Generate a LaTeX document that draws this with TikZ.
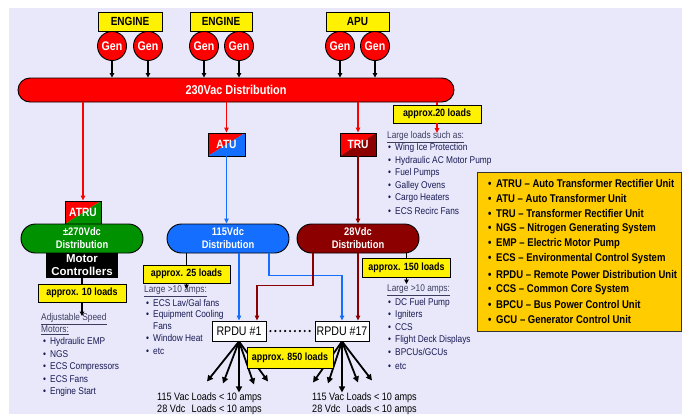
\documentclass[tikz,border=0pt]{standalone}
\usepackage{fontspec}
\setmainfont{Liberation Sans}[FakeStretch=0.85]
\newfontfamily\widefont{Liberation Sans}
\usetikzlibrary{arrows.meta}
\definecolor{bgc}{RGB}{232,232,250}
\definecolor{pblue}{RGB}{20,110,255}
\definecolor{dred}{RGB}{140,0,0}
\definecolor{pgreen}{RGB}{0,145,0}
\definecolor{gold}{RGB}{255,204,0}
\definecolor{navy}{RGB}{25,25,85}
\definecolor{hgrey}{RGB}{60,60,95}
\newcommand\bul{\makebox[7pt][l]{\textbullet}}
\newcommand\lbul{\makebox[8pt][l]{\textbullet}}
\begin{document}
\begin{tikzpicture}[x=1pt,y=-1pt,
  ybox/.style={draw=black, fill=yellow, line width=0.9pt, inner sep=0pt, text=black, font=\bfseries\fontsize{10.5}{12}\selectfont},
  gen/.style={circle, draw=black, fill=red, line width=0.9pt, minimum size=29pt, inner sep=0pt, text=white, font=\bfseries\fontsize{12.5}{13}\selectfont},
  pill/.style={draw=black, line width=0.9pt, rounded corners=14.5pt, minimum width=122pt, minimum height=29pt, inner sep=0pt, align=center, text=white, font=\bfseries\fontsize{11}{13}\selectfont},
  conv/.style 2 args={draw=black, line width=0.9pt, minimum width=36pt, minimum height=23pt, inner sep=0pt, text=white, font=\bfseries\fontsize{12}{13}\selectfont,
    path picture={
      \fill[#1] (path picture bounding box.north west) -- (path picture bounding box.north east) -- (path picture bounding box.south west) -- cycle;
      \fill[#2] (path picture bounding box.north east) -- (path picture bounding box.south east) -- (path picture bounding box.south west) -- cycle;}},
  karr/.style={black, line width=1.1pt, -{Triangle[length=4.5pt,width=4.5pt]}},
  kline/.style={black, line width=1.1pt},
  rarr/.style={red, line width=1.3pt, -{Triangle[length=5pt,width=4.5pt]}},
  barr/.style={pblue, line width=1.3pt, -{Triangle[length=5pt,width=4.5pt]}},
  darr/.style={dred, line width=1.3pt, -{Triangle[length=5pt,width=4.5pt]}},
  farr/.style={black, line width=1.8pt, -{Triangle[length=6pt,width=6pt]}},
  li/.style={anchor=west, inner sep=0pt, text=navy, font=\fontsize{9.8}{11}\selectfont},
  lh/.style={anchor=west, inner sep=0pt, text=hgrey, font=\fontsize{9.8}{11}\selectfont},
  lg/.style={anchor=west, inner sep=0pt, text=black, font=\bfseries\fontsize{11.2}{12}\selectfont},
  rp/.style={draw=black, fill=white, line width=0.9pt, minimum width=54pt, minimum height=20pt, inner sep=0pt, font=\fontsize{12.5}{13}\selectfont}
]
\useasboundingbox (0,0) rectangle (682,418);
\fill[bgc] (9,8) rectangle (682,414);

% sources
\node[ybox, minimum width=64pt, minimum height=19pt, font=\bfseries\fontsize{11.8}{12}\selectfont] (eng1) at (130,21.5) {ENGINE};
\node[ybox, minimum width=62pt, minimum height=19pt, font=\bfseries\fontsize{11.8}{12}\selectfont] (eng2) at (221,21.5) {ENGINE};
\node[ybox, minimum width=63pt, minimum height=19pt, font=\bfseries\fontsize{11.8}{12}\selectfont] (apu) at (357.5,21.5) {APU};
\node[gen] (g1) at (112,46) {Gen};
\node[gen] (g2) at (148,46) {Gen};
\node[gen] (g3) at (204,46) {Gen};
\node[gen] (g4) at (239,46) {Gen};
\node[gen] (g5) at (340,46) {Gen};
\node[gen] (g6) at (375,46) {Gen};

\node[draw=black, fill=red, line width=0.9pt, rounded corners=12pt, minimum width=436pt, minimum height=24pt, inner sep=0pt, text=white, font=\bfseries\fontsize{12.8}{14}\selectfont] (bus) at (236,90) {230Vac Distribution};

\foreach \g in {g1,g2,g3,g4,g5,g6}
  \draw[karr] (\g.south) -- (\g.south |- bus.north);

% converters
\node[conv={red}{pblue}, minimum width=37pt] (atu) at (226.5,144.5) {ATU};
\node[conv={red}{dred}] (tru) at (358,144.5) {TRU};
\node[conv={red}{pgreen}] (atru) at (83,212.5) {ATRU};

\draw[rarr] (bus.south -| atru.north) -- (atru.north);
\draw[rarr] (bus.south -| atu.north) -- (atu.north);
\draw[rarr] (bus.south -| tru.north) -- (tru.north);

% approx 20
\node[ybox, minimum width=88pt, minimum height=18pt] (l20) at (437,114) {approx.20 loads};
\coordinate (l20end) at (437,133);
\draw[red, line width=1.3pt] (bus.south -| l20.north) -- (l20.north);
\draw[rarr] (l20.south) -- (l20end);

% distribution pills
\node[pill, fill=pgreen] (d270) at (82,238.5) {±270Vdc\\Distribution};
\node[pill, fill=pblue] (d115) at (228,238.5) {115Vdc\\Distribution};
\node[pill, fill=dred] (d28) at (358,238.5) {28Vdc\\Distribution};

\draw[barr] (atu.south) -- (atu.south |- d115.north);
\draw[darr] (tru.south) -- (tru.south |- d28.north);

\node[fill=black, minimum width=72pt, minimum height=25pt, inner sep=0pt, align=center, text=white, font=\widefont\bfseries\fontsize{11.5}{13}\selectfont] (motor) at (82,265.5) {Motor\\Controllers};

% load boxes
\node[ybox, minimum width=88pt, minimum height=18pt] (l10) at (82,293) {approx. 10 loads};
\node[ybox, minimum width=87pt, minimum height=18pt] (l25) at (186.5,274) {approx. 25 loads};
\node[ybox, minimum width=88pt, minimum height=19pt] (l150) at (406.5,267.5) {approx. 150 loads};
\coordinate (l10end) at (82,316);
\coordinate (l25end) at (186.5,289);
\coordinate (l150end) at (406.5,284);
\draw[kline] (motor.south) -- (l10.north);
\draw[karr] (l10.south) -- (l10end);
\draw[kline] (d115.south -| l25.north) -- (l25.north);
\draw[karr] (l25.south) -- (l25end);
\draw[kline] (d28.south -| l150.north) -- (l150.north);
\draw[karr] (l150.south) -- (l150end);

% RPDUs
\node[rp] (rp1) at (239,331) {RPDU \#1};
\node[rp] (rp17) at (342,331) {RPDU \#17};

\draw[barr] (d115.south -| rp1.north) -- (rp1.north);
\draw[barr] ([xshift=41pt]d115.south) -- ++(0,22) -| (rp17.north);
\draw[darr] ([xshift=-45pt]d28.south) -- ++(0,32) -| ([xshift=18pt]rp1.north);
\draw[darr] (d28.south) -- (d28.south |- rp17.north);

\draw[line width=2.4pt, dash pattern=on 0pt off 4.9pt, line cap=round] ([xshift=4pt]rp1.east) -- ([xshift=-2pt]rp17.west);

\foreach \dx/\dy in {-32/40, -16/42, 0/51, 15/43, 29/40}
  \draw[farr] (rp1.south) -- ++(\dx,\dy);
\foreach \dx/\dy in {-29/41, -14/42, 0/51, 16/41, 30/39}
  \draw[farr] (rp17.south) -- ++(\dx,\dy);

\node[ybox, minimum width=86pt, minimum height=21pt] (l850) at (290,357.5) {approx. 850 loads};

\node[anchor=west, inner sep=0pt, font=\fontsize{10.7}{12}\selectfont] (t1a) at (157,398) {115 Vac Loads < 10 amps};
\node[anchor=west, inner sep=0pt, font=\fontsize{10.7}{12}\selectfont] (t1b) at (157,410) {\rlap{28 Vdc}\phantom{115 Vac} Loads < 10 amps};
\node[anchor=west, inner sep=0pt, font=\fontsize{10.7}{12}\selectfont] (t2a) at (312,398) {115 Vac Loads < 10 amps};
\node[anchor=west, inner sep=0pt, font=\fontsize{10.7}{12}\selectfont] (t2b) at (312,410) {\rlap{28 Vdc}\phantom{115 Vac} Loads < 10 amps};

% list A
\node[lh] (ah) at (387,137) {\underline{Large loads such as:}};
\node[li] (a1) at (388,148) {\bul Wing Ice Protection};
\node[li] (a2) at (388,161) {\bul Hydraulic AC Motor Pump};
\node[li] (a3) at (388,173) {\bul Fuel Pumps};
\node[li] (a4) at (388,186) {\bul Galley Ovens};
\node[li] (a5) at (388,198) {\bul Cargo Heaters};
\node[li] (a6) at (388,211) {\bul ECS Recirc Fans};

% list B
\node[lh] (bh1) at (41,319) {\underline{Adjustable Speed}};
\node[lh] (bh2) at (41,330) {\underline{Motors:}};
\node[li] (b1) at (43,342) {\bul Hydraulic EMP};
\node[li] (b2) at (43,354) {\bul NGS};
\node[li] (b3) at (43,367) {\bul ECS Compressors};
\node[li] (b4) at (43,379) {\bul ECS Fans};
\node[li] (b5) at (43,392) {\bul Engine Start};

% list C
\node[lh] (ch) at (144,291) {\underline{Large >10 amps:}};
\node[li] (c1) at (146,303) {\bul ECS Lav/Gal fans};
\node[li] (c2) at (146,315) {\bul Equipment Cooling};
\node[li] (c3) at (146,326) {\hspace*{7pt}Fans};
\node[li] (c4) at (146,338) {\bul Window Heat};
\node[li] (c5) at (146,351) {\bul etc};

% list D
\node[lh] (dh) at (387,290) {\underline{Large >10 amps:}};
\node[li] (e1) at (388,303) {\bul DC Fuel Pump};
\node[li] (e2) at (388,315) {\bul Igniters};
\node[li] (e3) at (388,327) {\bul CCS};
\node[li] (e4) at (388,340) {\bul Flight Deck Displays};
\node[li] (e5) at (388,352) {\bul BPCUs/GCUs};
\node[li] (e6) at (388,366) {\bul etc};

% legend
\node[draw=black!80, fill=gold, line width=0.9pt, minimum width=204pt, minimum height=159pt, inner sep=0pt] (legend) at (579,251.5) {};
\foreach \t [count=\i] in {ATRU -- Auto Transformer Rectifier Unit, ATU -- Auto Transformer Unit, TRU -- Transformer Rectifier Unit, NGS -- Nitrogen Generating System, EMP -- Electric Motor Pump, ECS -- Environmental Control System, RPDU -- Remote Power Distribution Unit, CCS -- Common Core System, BPCU -- Bus Power Control Unit, GCU -- Generator Control Unit}
  \node[lg] (lg\i) at (488,{183+15.2*(\i-1)}) {\lbul\t};
\end{tikzpicture}
\end{document}
